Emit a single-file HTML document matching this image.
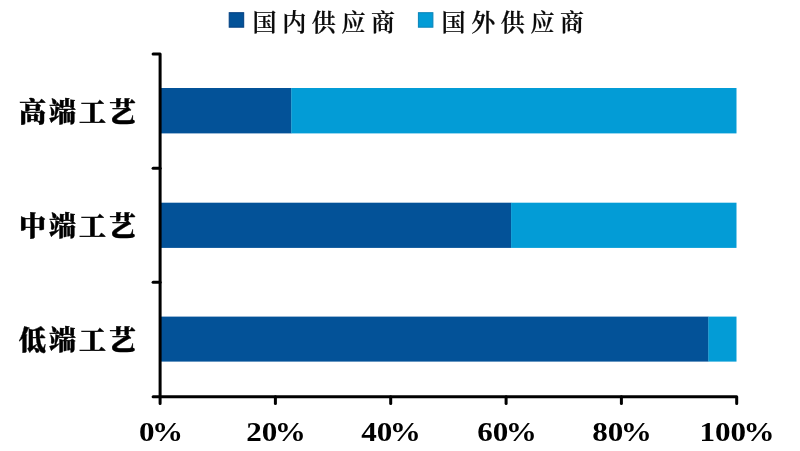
<!DOCTYPE html>
<html lang="zh-CN">
<head>
<meta charset="utf-8">
<title>供应商占比</title>
<style>
html,body{margin:0;padding:0;background:#fff;}
body{width:800px;height:451px;position:relative;overflow:hidden;}
#c{position:absolute;left:0;top:0;width:800px;height:451px;filter:blur(0.45px);}
.abs{position:absolute;}
.leg{position:absolute;top:6px;height:34px;line-height:34px;font-family:"Liberation Serif","Noto Serif CJK SC",serif;font-size:24px;font-weight:600;color:#0a0a0a;letter-spacing:5.6px;-webkit-text-stroke:0.2px #0a0a0a;white-space:nowrap;}
.cat{position:absolute;left:19.1px;width:130px;height:40px;line-height:40px;font-family:"Liberation Serif","Noto Serif CJK SC",serif;font-size:27px;font-weight:900;color:#000;letter-spacing:3px;-webkit-text-stroke:0.4px #000;white-space:nowrap;}
.xl{position:absolute;top:414.5px;width:120px;height:34px;line-height:34px;text-align:center;font-family:"Liberation Serif",serif;font-size:28px;font-weight:700;color:#000;white-space:nowrap;transform:scaleX(1.11);}
.xl span{margin-left:-2.4px;}
</style>
</head>
<body>
<div id="c">
<svg class="abs" style="left:0;top:0;" width="800" height="451" viewBox="0 0 800 451">
<!-- legend swatches -->
<rect x="229.2" y="12.7" width="14.5" height="14.5" fill="#035298" stroke="#023f80" stroke-width="1"/>
<rect x="418.4" y="12.7" width="14.5" height="14.5" fill="#039cd6" stroke="#0883b8" stroke-width="1"/>
<!-- bars -->
<rect x="161" y="88" width="130.5" height="45.4" fill="#035298"/>
<rect x="291.3" y="88" width="445.2" height="45.4" fill="#039cd6"/>
<rect x="161" y="202.7" width="350.3" height="45.2" fill="#035298"/>
<rect x="511.1" y="202.7" width="225.4" height="45.2" fill="#039cd6"/>
<rect x="161" y="316.6" width="547.6" height="45.0" fill="#035298"/>
<rect x="708.4" y="316.6" width="28.1" height="45.0" fill="#039cd6"/>
<!-- axes -->
<g fill="none" stroke="#000" stroke-width="3" stroke-linecap="round" stroke-linejoin="round">
<path d="M153.1 54 H160.1 V403.6"/>
<path d="M153.1 396.75 H736.7 V403.6"/>
<path d="M153.1 168.3 H160.1"/>
<path d="M153.1 282.3 H160.1"/>
<path d="M275.4 396.75 V403.6"/>
<path d="M390.7 396.75 V403.6"/>
<path d="M506.1 396.75 V403.6"/>
<path d="M621.4 396.75 V403.6"/>
</g>
</svg>
<div class="leg" style="left:252.6px;">国内供应商</div>
<div class="leg" style="left:441.6px;">国外供应商</div>

<!-- category labels -->
<div class="cat" style="top:92.8px;">高端工艺</div>
<div class="cat" style="top:207.3px;">中端工艺</div>
<div class="cat" style="top:321.3px;">低端工艺</div>

<!-- x labels -->
<div class="xl" style="left:101px;">0<span>%</span></div>
<div class="xl" style="left:215.5px;">20<span>%</span></div>
<div class="xl" style="left:331.2px;">40<span>%</span></div>
<div class="xl" style="left:446.6px;">60<span>%</span></div>
<div class="xl" style="left:561.7px;">80<span>%</span></div>
<div class="xl" style="left:677px;">100<span>%</span></div>
</div>
</body>
</html>
